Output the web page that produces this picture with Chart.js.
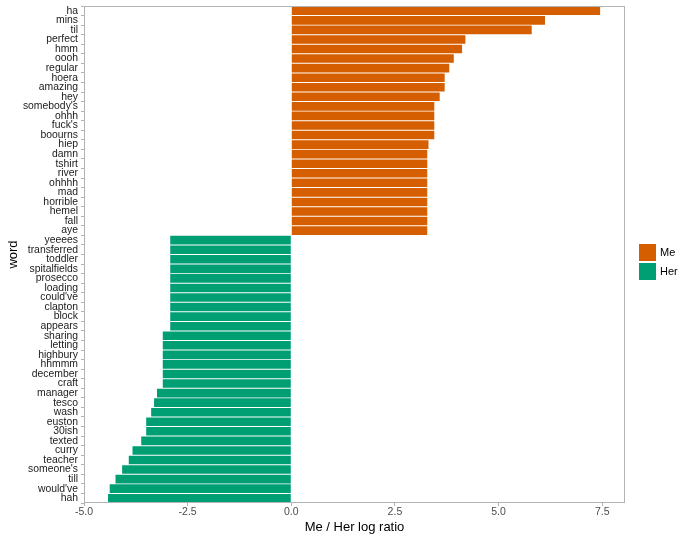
<!DOCTYPE html>
<html>
<head>
<meta charset="utf-8">
<script src="https://cdn.jsdelivr.net/npm/chart.js@4.4.1/dist/chart.umd.min.js"></script>
<style>
  html, body { margin: 0; padding: 0; background: #fff; }
  #wrap { width: 696px; height: 541px; position: relative; }
</style>
</head>
<body>
<div id="wrap"><canvas id="chart" width="696" height="541"></canvas></div>
<script>
// words, top to bottom
const meWords = ['ha', 'mins', 'til', 'perfect', 'hmm', 'oooh', 'regular', 'hoera', 'amazing', 'hey',
    "somebody's", 'ohhh', "fuck's", 'boourns', 'hiep', 'damn', 'tshirt', 'river', 'ohhhh', 'mad',
    'horrible', 'hemel', 'fall', 'aye'];
const meValues = [7.45, 6.12, 5.8, 4.2, 4.12, 3.92, 3.81, 3.7, 3.7, 3.58,
    3.45, 3.45, 3.45, 3.45, 3.31, 3.28, 3.28, 3.28, 3.28, 3.28,
    3.28, 3.28, 3.28, 3.28];
const herWords = ['yeeees', 'transferred', 'toddler', 'spitalfields', 'prosecco', 'loading', "could've",
    'clapton', 'block', 'appears', 'sharing', 'letting', 'highbury', 'hhmmm', 'december', 'craft',
    'manager', 'tesco', 'wash', 'euston', '30ish', 'texted', 'curry', 'teacher', "someone's", 'till',
    "would've", 'hah'];
const herValues = [-2.92, -2.92, -2.92, -2.92, -2.92, -2.92, -2.92, -2.92, -2.92, -2.92,
    -3.1, -3.1, -3.1, -3.1, -3.1, -3.1,
    -3.24, -3.31, -3.38, -3.5, -3.5, -3.62, -3.83, -3.92, -4.08, -4.24, -4.38, -4.42];
const xTicks = [-5, -2.5, 0, 2.5, 5, 7.5];

const labels = meWords.concat(herWords);
const meData = meValues.concat(herWords.map(() => null));
const herData = meWords.map(() => null).concat(herValues);

const ME_COLOR = '#D55E00';
const HER_COLOR = '#009E73';
const FONT = 'Liberation Sans, Arial, sans-serif';

const panelPlugin = {
    id: 'panel',
    afterDraw(chart) {
        const ctx = chart.ctx;
        const a = chart.chartArea;
        ctx.save();
        ctx.strokeStyle = '#b3b3b3';
        ctx.lineWidth = 1;
        ctx.strokeRect(a.left + 0.5, a.top + 0.5, a.right - a.left - 1, a.bottom - a.top - 1);

        // legend
        const items = [['Me', ME_COLOR], ['Her', HER_COLOR]];
        ctx.font = '11px ' + FONT;
        ctx.textBaseline = 'middle';
        items.forEach((it, i) => {
            const y = 244 + i * 19;
            ctx.fillStyle = it[1];
            ctx.fillRect(639, y, 17, 17);
            ctx.fillStyle = '#000';
            ctx.fillText(it[0], 660, y + 9);
        });
        ctx.restore();
    }
};

new Chart(document.getElementById('chart').getContext('2d'), {
    type: 'bar',
    data: {
        labels: labels,
        datasets: [
            { label: 'Me', data: meData, backgroundColor: ME_COLOR, barPercentage: 0.9, categoryPercentage: 1 },
            { label: 'Her', data: herData, backgroundColor: HER_COLOR, barPercentage: 0.9, categoryPercentage: 1 }
        ]
    },
    options: {
        indexAxis: 'y',
        responsive: false,
        animation: false,
        layout: { padding: { top: 6, right: 71, left: 0, bottom: 0 } },
        plugins: { legend: { display: false }, tooltip: { enabled: false } },
        scales: {
            x: {
                type: 'linear',
                min: -5,
                max: 8.05,
                afterBuildTicks(scale) {
                    scale.ticks = xTicks.map(v => ({ value: v }));
                },
                afterFit(scale) {
                    scale.height = 38;
                    scale.paddingLeft = 0;
                    scale.paddingRight = 0;
                },
                ticks: {
                    color: '#4d4d4d',
                    font: { size: 10.5, family: FONT },
                    padding: 0,
                    callback: v => v.toFixed(1)
                },
                grid: { drawOnChartArea: false, drawTicks: true, tickLength: 3, color: '#b3b3b3' },
                border: { display: false },
                title: { display: true, text: 'Me / Her log ratio', color: '#000', font: { size: 13, family: FONT }, padding: { top: 0, bottom: 6 } }
            },
            y: {
                type: 'category',
                stacked: true,
                afterFit(scale) {
                    scale.width = 84;
                    scale.paddingTop = 0;
                    scale.paddingBottom = 0;
                },
                ticks: {
                    autoSkip: false,
                    color: '#1a1a1a',
                    font: { size: 10.4, family: FONT },
                    padding: 3
                },
                grid: { drawOnChartArea: false, drawTicks: true, tickLength: 3, color: '#b3b3b3' },
                border: { display: false },
                title: { display: true, text: 'word', color: '#000', font: { size: 13, family: FONT }, padding: { top: 6, bottom: 0 } }
            }
        }
    },
    plugins: [panelPlugin]
});
</script>
</body>
</html>
